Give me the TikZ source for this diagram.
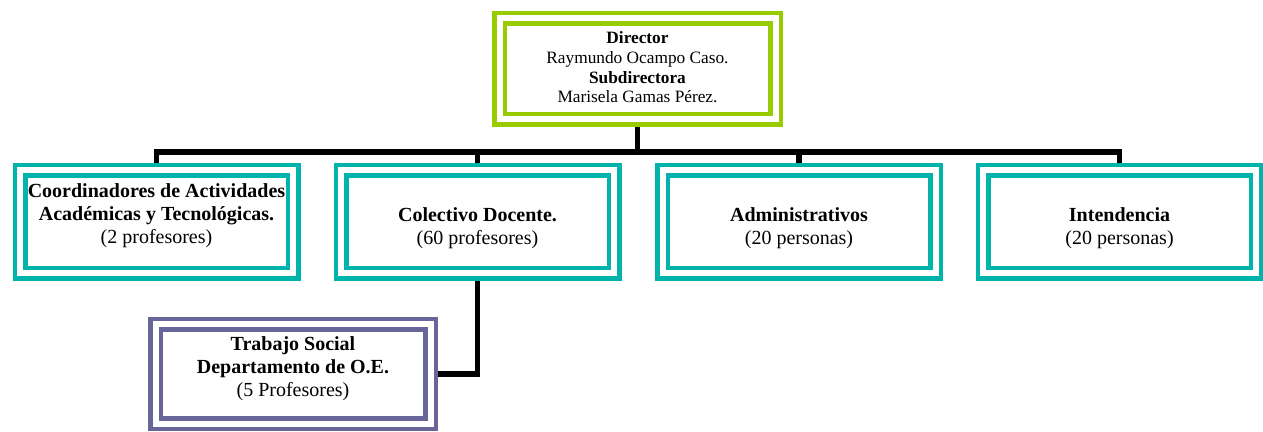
\documentclass[tikz,border=0pt]{standalone}
\usepackage{fontspec}
\setmainfont{Liberation Serif}
\usetikzlibrary{backgrounds}
\definecolor{dirgreen}{RGB}{153,204,0}
\definecolor{teal2}{RGB}{0,180,172}
\definecolor{purp}{RGB}{104,102,153}
\tikzset{
  orgbox/.style={draw=#1, double=white, line width=4.5pt, double distance=6pt,
    fill=white, inner sep=0pt},
  boxtext/.style={inner sep=0pt, align=center, font=\fontsize{20}{23}\selectfont},
  conn/.style={draw=black, line width=5.5pt, line join=miter}
}
\begin{document}
\begin{tikzpicture}[x=1pt,y=1pt]
\useasboundingbox (0,0) rectangle (1263,431);
\node[orgbox=dirgreen, minimum width=276pt, minimum height=101pt] (dir) at (637.5,362) {};
\node[orgbox=teal2, minimum width=273pt, minimum height=103pt] (c1) at (156.5,209) {};
\node[orgbox=teal2, minimum width=273pt, minimum height=103pt] (c2) at (477.5,209) {};
\node[orgbox=teal2, minimum width=273pt, minimum height=103pt] (c3) at (799,209) {};
\node[orgbox=teal2, minimum width=273pt, minimum height=103pt] (c4) at (1119.5,209) {};
\node[orgbox=purp, minimum width=275pt, minimum height=99pt] (ts) at (293,57) {};
\node[boxtext, font=\fontsize{17.3}{19.6}\selectfont] (dirt) at ([yshift=1.5]dir.center)
  {\textbf{Director}\\Raymundo Ocampo Caso.\\\textbf{Subdirectora}\\Marisela Gamas Pérez.};
\node[boxtext] (c1t) at ([yshift=6]c1.center)
  {\textbf{Coordinadores de Actividades}\\\textbf{Académicas y Tecnológicas.}\\(2 profesores)};
\node[boxtext] (c2t) at ([yshift=-6]c2.center) {\textbf{Colectivo Docente.}\\(60 profesores)};
\node[boxtext] (c3t) at ([yshift=-6]c3.center) {\textbf{Administrativos}\\(20 personas)};
\node[boxtext] (c4t) at ([yshift=-6]c4.center) {\textbf{Intendencia}\\(20 personas)};
\node[boxtext] (tst) at ([yshift=5]ts.center)
  {\textbf{Trabajo Social}\\\textbf{Departamento de O.E.}\\(5 Profesores)};
\coordinate (bus) at (637.5,279);
\begin{scope}[on background layer]
  \draw[conn] (dir.south) -- (bus);
  \draw[conn] (c1.north) |- (bus) -| (c4.north);
  \draw[conn] (c2.north) -- (c2.north |- bus);
  \draw[conn] (c3.north) -- (c3.north |- bus);
  \draw[conn] (c2.south) |- (ts.east);
\end{scope}
\end{tikzpicture}
\end{document}
